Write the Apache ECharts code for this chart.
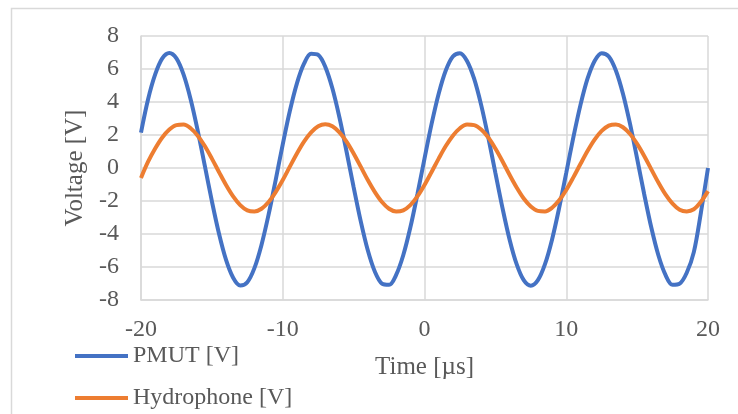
<!DOCTYPE html>
<html>
<head>
<meta charset="utf-8">
<script src="https://cdn.jsdelivr.net/npm/echarts@6/dist/echarts.min.js"></script>
<style>
  html, body { margin: 0; padding: 0; background: #ffffff; }
  #chart { width: 738px; height: 414px; }
</style>
</head>
<body>
<div id="chart"></div>
<script>
// Sample times in microseconds, every 0.5 µs from -20 to 20
const timeUs = [
  -20, -19.5, -19, -18.5, -18, -17.5, -17, -16.5, -16, -15.5,
  -15, -14.5, -14, -13.5, -13, -12.5, -12, -11.5, -11, -10.5,
  -10, -9.5, -9, -8.5, -8, -7.5, -7, -6.5, -6, -5.5,
  -5, -4.5, -4, -3.5, -3, -2.5, -2, -1.5, -1, -0.5,
  0, 0.5, 1, 1.5, 2, 2.5, 3, 3.5, 4, 4.5,
  5, 5.5, 6, 6.5, 7, 7.5, 8, 8.5, 9, 9.5,
  10, 10.5, 11, 11.5, 12, 12.5, 13, 13.5, 14, 14.5,
  15, 15.5, 16, 16.5, 17, 17.5, 18, 18.5, 19, 19.5,
  20
];

// PMUT output voltage [V]
const pmutV = [
  2.15, 4.17, 5.67, 6.64, 6.97, 6.64, 5.67, 4.17, 2.27, 0.14,
  -2.01, -3.97, -5.57, -6.65, -7.12, -6.92, -6.07, -4.66, -2.83, -0.73,
  1.43, 3.45, 5.13, 6.32, 6.92, 6.85, 6.13, 4.83, 3.06, 1.0,
  -1.16, -3.22, -4.99, -6.29, -7.01, -7.08, -6.48, -5.29, -3.61, -1.59,
  0.57, 2.67, 4.5, 5.91, 6.76, 6.96, 6.49, 5.41, 3.81, 1.85,
  -0.3, -2.42, -4.33, -5.83, -6.8, -7.13, -6.8, -5.83, -4.33, -2.42,
  -0.3, 1.85, 3.81, 5.41, 6.49, 6.96, 6.76, 5.91, 4.5, 2.67,
  0.57, -1.59, -3.61, -5.29, -6.48, -7.08, -7.01, -6.35, -5.1, -2.7,
  0.0
];

// Hydrophone voltage [V]
const hydrophoneV = [
  -0.6, 0.38, 1.18, 1.85, 2.33, 2.6, 2.63, 2.41, 1.96, 1.33,
  0.57, -0.24, -1.03, -1.72, -2.25, -2.57, -2.64, -2.47, -2.06, -1.46,
  -0.73, 0.08, 0.88, 1.6, 2.16, 2.53, 2.65, 2.53, 2.16, 1.6,
  0.88, 0.08, -0.73, -1.46, -2.06, -2.47, -2.64, -2.57, -2.25, -1.72,
  -1.03, -0.24, 0.57, 1.33, 1.96, 2.41, 2.63, 2.6, 2.33, 1.85,
  1.18, 0.41, -0.41, -1.18, -1.85, -2.33, -2.6, -2.63, -2.41, -1.96,
  -1.33, -0.57, 0.24, 1.03, 1.72, 2.25, 2.57, 2.64, 2.47, 2.06,
  1.46, 0.73, -0.08, -0.88, -1.6, -2.16, -2.53, -2.63, -2.5, -2.05,
  -1.4
];

const seriesNames = ['PMUT [V]', 'Hydrophone [V]'];
const seriesColors = ['#4472C4', '#ED7D31'];

const textColor = '#595959';
const gridColor = '#d9d9d9';
const serif = '"Liberation Serif", "Times New Roman", serif';

const toPairs = (xs, ys) => xs.map((x, i) => [x, ys[i]]);

const chart = echarts.init(document.getElementById('chart'), null, { renderer: 'canvas' });

chart.setOption({
  backgroundColor: '#ffffff',
  animation: false,
  textStyle: { fontFamily: serif, color: textColor },
  graphic: [{
    type: 'rect',
    silent: true,
    shape: { x: 11.5, y: 8.5, width: 800, height: 500 },
    style: { fill: 'none', stroke: gridColor, lineWidth: 1.5 }
  }],
  grid: { left: 141, top: 36, width: 567, height: 264, containLabel: false },
  legend: {
    orient: 'vertical',
    left: 75,
    top: 344,
    padding: 0,
    icon: 'rect',
    itemWidth: 53,
    itemHeight: 4,
    itemGap: 18,
    data: seriesNames,
    textStyle: { fontFamily: serif, fontSize: 24, color: textColor, lineHeight: 24 }
  },
  xAxis: {
    type: 'value',
    min: -20,
    max: 20,
    interval: 10,
    name: 'Time [µs]',
    nameLocation: 'middle',
    nameGap: 55,
    nameTextStyle: { fontFamily: serif, fontSize: 25, color: textColor },
    axisLine: { show: true, onZero: false, lineStyle: { color: gridColor, width: 1.5 } },
    axisTick: { show: false },
    axisLabel: { margin: 18, fontFamily: serif, fontSize: 24, color: textColor },
    splitLine: { show: true, lineStyle: { color: gridColor, width: 1.5 } }
  },
  yAxis: {
    type: 'value',
    min: -8,
    max: 8,
    interval: 2,
    name: 'Voltage [V]',
    nameLocation: 'middle',
    nameGap: 49,
    nameTextStyle: { fontFamily: serif, fontSize: 25, color: textColor },
    axisLine: { show: true, onZero: false, lineStyle: { color: gridColor, width: 1.5 } },
    axisTick: { show: false },
    axisLabel: { margin: 22, fontFamily: serif, fontSize: 24, color: textColor },
    splitLine: { show: true, lineStyle: { color: gridColor, width: 1.5 } }
  },
  series: [
    {
      name: seriesNames[0],
      type: 'line',
      data: toPairs(timeUs, pmutV),
      smooth: 0.33,
      symbol: 'none',
      color: seriesColors[0],
      lineStyle: { color: seriesColors[0], width: 4 }
    },
    {
      name: seriesNames[1],
      type: 'line',
      data: toPairs(timeUs, hydrophoneV),
      smooth: 0.33,
      symbol: 'none',
      color: seriesColors[1],
      lineStyle: { color: seriesColors[1], width: 4 }
    }
  ]
});
</script>
</body>
</html>
